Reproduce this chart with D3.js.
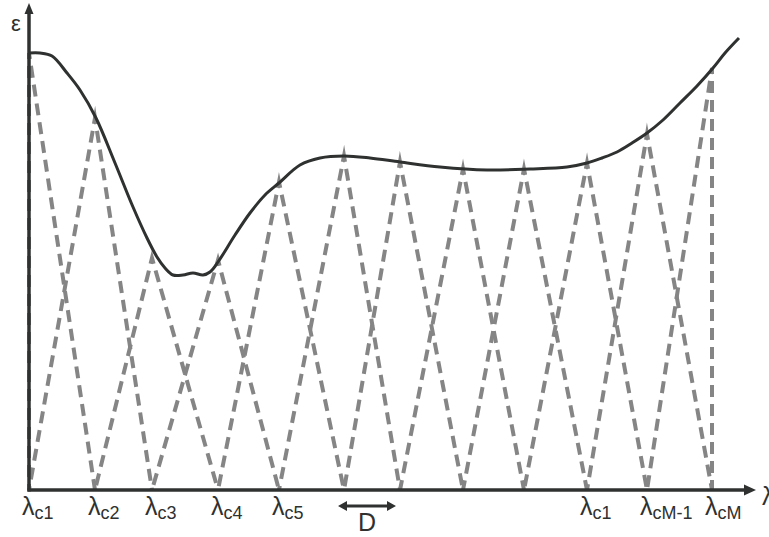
<!DOCTYPE html>
<html>
<head>
<meta charset="utf-8">
<script src="https://cdn.jsdelivr.net/npm/d3@7"></script>
<style>
  html, body { margin: 0; padding: 0; background: #fff; }
  svg { display: block; font-family: "Liberation Sans", Arial, sans-serif; }
</style>
</head>
<body>
<svg id="chart" width="769" height="537"></svg>
<script>
// channel centres (distance from the origin) and the peak height of each triangle
const centers = [0, 66, 123, 189, 250, 315, 371, 434, 495, 558, 618, 683];
const peaks = [437, 372, 232, 230, 308, 334, 328, 321, 321, 327, 356, 422];

// the smooth epsilon(lambda) curve
const curveX = [0, 11, 23, 38, 51, 67, 86, 104, 118, 128, 136, 144, 154, 164, 174, 181, 189,
  206, 221, 236, 250, 271, 291, 315, 341, 371, 411, 458, 501, 538, 558, 573, 588, 603, 618,
  634, 651, 668, 684, 696, 710];
const curveY = [437, 437, 434, 417, 400, 372, 327, 283, 252, 233, 222, 215, 215, 217, 215, 218,
  228, 255, 277, 295, 307, 325, 332, 334, 332, 328, 323, 320, 321, 323, 327, 332, 338, 347, 357,
  370, 387, 404, 422, 437, 452];

// labelled channels and their subscripts
const tickIndex = [0, 1, 2, 3, 4, 9, 10, 11];
const tickSubs = ["c1", "c2", "c3", "c4", "c5", "c1", "cM-1", "cM"];

const svg = d3.select("#chart");
const x = d3.scaleLinear().domain([0, 727]).range([29, 756]);
const y = d3.scaleLinear().domain([0, 487]).range([490, 3]);

const axisColor = "#2f3130";
const dashColor = "#858585";
const dashOn = 12, dashOff = 7;

// triangles: each rises from the neighbouring centres to its own peak
const tri = centers.map((c, i) => {
  const left = i > 0 ? centers[i - 1] : c;
  const right = i < centers.length - 1 ? centers[i + 1] : c;
  return [[left, 0], [c, peaks[i]], [right, 0]];
});

svg.append("g")
  .selectAll("path")
  .data(tri)
  .join("path")
  .attr("d", d => d3.line().x(p => x(p[0])).y(p => y(p[1]))(d))
  .attr("fill", "none")
  .attr("stroke", dashColor)
  .attr("stroke-width", 4)
  .attr("stroke-linejoin", "miter")
  .attr("stroke-miterlimit", 10)
  .attr("stroke-dasharray", `${dashOn},${dashOff}`)
  .attr("stroke-dashoffset", d => {
    // keep a dash sitting on the peak
    const dx = x(d[1][0]) - x(d[0][0]);
    const dy = y(d[1][1]) - y(d[0][1]);
    const len = Math.hypot(dx, dy);
    const period = dashOn + dashOff;
    return (((dashOn / 2 - len) % period) + period) % period;
  });

// the curve
const curveData = curveX.map((v, i) => [v, curveY[i]]);
svg.append("path")
  .datum(curveData)
  .attr("d", d3.line().x(p => x(p[0])).y(p => y(p[1])).curve(d3.curveCatmullRom.alpha(0.5)))
  .attr("fill", "none")
  .attr("stroke", axisColor)
  .attr("stroke-width", 3);

// axes with arrow heads
const x0 = x(0), y0 = y(0);
const xEnd = x.range()[1], yEnd = y.range()[1];

svg.append("line")
  .attr("x1", x0).attr("y1", y0 + 1.5)
  .attr("x2", x0).attr("y2", yEnd + 8)
  .attr("stroke", axisColor).attr("stroke-width", 3.5);
svg.append("path")
  .attr("d", `M${x0},${yEnd} L${x0 - 4.5},${yEnd + 11} L${x0 + 4.5},${yEnd + 11} Z`)
  .attr("fill", axisColor);

svg.append("line")
  .attr("x1", x0 - 1.5).attr("y1", y0)
  .attr("x2", xEnd - 8).attr("y2", y0)
  .attr("stroke", axisColor).attr("stroke-width", 3.5);
svg.append("path")
  .attr("d", `M${xEnd},${y0} L${xEnd - 12},${y0 - 5.5} L${xEnd - 12},${y0 + 5.5} Z`)
  .attr("fill", axisColor);

// axis names
svg.append("text")
  .attr("x", 11).attr("y", 31)
  .attr("font-size", 22)
  .attr("fill", axisColor)
  .text("ε");

svg.append("text")
  .attr("x", xEnd + 6).attr("y", y0 + 15)
  .attr("font-size", 25)
  .attr("fill", axisColor)
  .text("λ");

// channel labels
const labels = svg.append("g")
  .selectAll("text")
  .data(tickIndex)
  .join("text")
  .attr("x", d => x(centers[d]) - 7)
  .attr("y", y0 + 25)
  .attr("font-size", 25)
  .attr("fill", axisColor);

labels.append("tspan").text("λ");
labels.append("tspan")
  .attr("font-size", 18)
  .attr("dy", 4)
  .text((d, i) => tickSubs[i]);

// channel spacing marker
const dA = x(centers[5]) - 6, dB = x(centers[6]) - 4;
const dy = y0 + 16;
svg.append("line")
  .attr("x1", dA + 6).attr("y1", dy)
  .attr("x2", dB - 6).attr("y2", dy)
  .attr("stroke", axisColor).attr("stroke-width", 3);
svg.append("path")
  .attr("d", `M${dA},${dy} L${dA + 9},${dy - 5} L${dA + 9},${dy + 5} Z
              M${dB},${dy} L${dB - 9},${dy - 5} L${dB - 9},${dy + 5} Z`)
  .attr("fill", axisColor);
svg.append("text")
  .attr("x", (dA + dB) / 2)
  .attr("y", y0 + 41)
  .attr("text-anchor", "middle")
  .attr("font-size", 25)
  .attr("fill", axisColor)
  .text("D");
</script>
</body>
</html>
